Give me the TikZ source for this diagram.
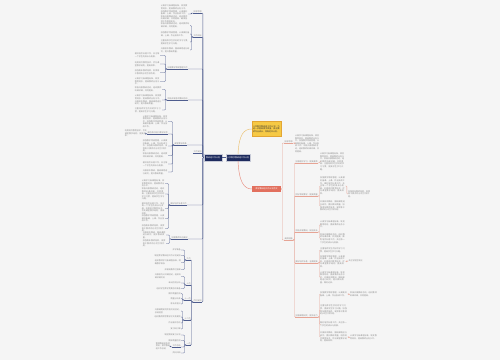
\documentclass[tikz,border=0pt]{standalone}
\usepackage{fontspec}
\newfontfamily\cjk{Noto Sans CJK SC}
\XeTeXlinebreaklocale "zh"
\XeTeXlinebreakskip=0pt plus 0.5pt
\newcommand\mmtiny{\cjk\fontsize{2}{2.6}\selectfont}
\definecolor{bgc}{HTML}{F5F5F5}
\definecolor{navy}{HTML}{1E2B5E}
\definecolor{lcol}{HTML}{4F5D8E}
\definecolor{rcol}{HTML}{E6A495}
\definecolor{redn}{HTML}{E2705E}
\definecolor{yeln}{HTML}{F6C945}
\definecolor{yelb}{HTML}{E3A634}
\definecolor{txt}{HTML}{8A8A8A}
\newcommand\mmA{认真学习新课程标准，转变教育观念，提高教师业务水平。}
\newcommand\mmB{加强教学常规管理，认真做好备课、上课、作业批改工作。}
\newcommand\mmC{积极开展教研活动，组织教师听课评课，共同提高。}
\newcommand\mmD{注重培养学生良好的学习习惯，提高学生学习兴趣。}
\newcommand\mmE{做好培优补差工作，关注每一个学生的成长与发展。}
\newcommand\mmF{开展校本教研，围绕课题进行研究，提升教研质量。}
\newcommand\mmG{利用现代教育技术，优化课堂教学结构，提高效率。}
\newcommand\mmH{加强青年教师培养，发挥骨干教师的示范引领作用。}
\tikzset{
  lab/.style={font=\mmtiny, inner xsep=0.3pt, inner ysep=0.4pt, text=txt},
  blk/.style={font=\mmtiny, text width=#1pt, inner sep=0pt, align=left, text=txt},
  lline/.style={draw=lcol, line width=0.35pt, rounded corners=0.8pt},
  rline/.style={draw=rcol, line width=0.35pt, rounded corners=0.8pt},
  navybox/.style={fill=navy, draw=white!75!navy, line width=0.3pt, text=white, font=\mmtiny, minimum height=6.5pt, inner xsep=1pt, inner ysep=0pt},
}
\newcommand\mmL[4]{\node[lab,anchor=south east] (#1) at (#2,#3) {#4}; \draw[lline] (#1.south west) -- (#1.south east);}
\newcommand\mmR[4]{\node[lab,anchor=south west] (#1) at (#2,#3) {#4}; \draw[rline] (#1.south west) -- (#1.south east);}
\newcommand\mmBL[5]{\node[blk=#4,anchor=east] (#1) at (#2,#3) {#5};}
\newcommand\mmBR[5]{\node[blk=#4,anchor=west] (#1) at (#2,#3) {#5};}
\newcommand\mmTL[4]{\node[lab,anchor=east] (#1) at (#2,#3) {#4};}
\newcommand\mmCL[2]{\draw[lline] (#1.south west) -- ++(-1.5,0) |- (#2.east);}
\newcommand\mmCLL[2]{\draw[lline] (#1.south west) -- ++(-1.5,0) |- (#2.south east);}
\newcommand\mmCR[2]{\draw[rline] (#1.south east) -- ++(1.5,0) |- (#2.west);}
\newcommand\mmCRL[2]{\draw[rline] (#1.south east) -- ++(1.5,0) |- (#2.south west);}
\newcommand\mmCG[2]{\draw[rline] (#1.east) -- ++(1.5,0) |- (#2.west);}
\begin{document}
\begin{tikzpicture}[x=1pt,y=-1pt]
\useasboundingbox (0,0) rectangle (500,360);
\fill[bgc] (0,0) rectangle (500,360);

% central nodes
\node[navybox, minimum width=24pt] (C) at (238,157.5) {小学数学教研组工作计划};
\node[navybox, minimum width=18pt] (H) at (213,157.5) {教研组工作计划};
\draw[lline] (H.east) -- (C.west);

% yellow note
\node[fill=yeln, draw=yelb, line width=0.3pt, text width=27pt, minimum height=15pt, inner sep=1pt, align=left, font=\mmtiny, text=black!80] (Y) at (266.5,129) {小学数学教研组工作计划：为进一步提高教学质量，促进教师专业成长，特制定本计划。};
% red node
\node[fill=redn, text=white, font=\mmtiny, minimum width=29pt, minimum height=6pt, inner sep=0.5pt] (R) at (266.5,189) {数学教研组工作计划范文};
\draw[draw=yelb!70, line width=0.45pt] (C.north) .. controls (239,134) and (244,129) .. (Y.west);
\draw[draw=redn!80, line width=0.45pt] (C.south) .. controls (239,182) and (244,189) .. (R.west);

% ---------- LEFT ----------
\mmL{LA}{202}{13}{指导思想}
\mmL{LB}{202}{37}{工作目标}
\mmL{LC}{188}{69}{加强教学常规管理工作}
\mmL{LD}{188}{100}{积极开展各项教研活动}
\mmL{LE}{187}{145}{课堂教学改革}
\mmL{LS}{202}{153}{工作安排}
\mmL{LF}{187}{205}{做好培优补差工作}
\mmL{LG}{188}{239}{加强教师队伍建设}
\mmL{LH}{202}{302}{月份安排}
\foreach \t in {LA,LB,LC,LD,LE,LS,LF,LG,LH}{
  \draw[lline] (H.west) -- ++(-1,0) |- (\t.south east);
}

\mmBL{A1}{188}{14}{27}{\mmA\mmB\mmC 确保各项工作落到实处。}
\mmCL{LA}{A1}
\mmBL{B1}{190}{25.5}{29}{\mmC}
\mmBL{B2}{190}{34}{29}{\mmB}
\mmBL{B3}{190}{42}{29}{\mmD}
\mmBL{B4}{190}{50}{29}{\mmF}
\foreach \c in {B1,B2,B3,B4}{\mmCL{LB}{\c}}

\mmBL{C1}{160}{55.5}{25}{\mmE}
\mmBL{C2}{160}{64}{25}{\mmG}
\mmBL{C3}{160}{72.5}{25}{\mmH}
\mmBL{C4}{160}{81.5}{25}{\mmA}
\foreach \c in {C1,C2,C3,C4}{\mmCL{LC}{\c}}

\mmBL{D1}{162}{89.5}{27}{\mmC}
\mmBL{D2}{162}{100}{27}{\mmA\mmF}
\mmBL{D3}{162}{110}{27}{\mmD}
\foreach \c in {D1,D2,D3}{\mmCL{LD}{\c}}

\mmBL{E1}{168}{121.5}{25}{\mmA\mmB}
\mmL{E2}{168}{134}{课后及时进行教学反思}
\mmCLL{LE}{E2}
\mmBL{E2a}{147}{133.5}{22}{\mmG}
\mmCL{E2}{E2a}
\mmBL{E3}{168}{146}{25}{\mmB\mmH}
\mmBL{E4}{168}{155.5}{25}{\mmC}
\mmBL{E5}{168}{164}{25}{\mmE}
\mmBL{E6}{168}{172}{25}{\mmF}
\foreach \c in {E1,E3,E4,E5,E6}{\mmCL{LE}{\c}}

\mmBL{F1}{165}{183.5}{23}{\mmA}
\mmBL{F2}{165}{194}{23}{\mmC\mmD}
\mmBL{F3}{165}{208.5}{23}{\mmE\mmG}
\mmBL{F4}{165}{218.5}{23}{\mmB}
\mmBL{F5}{165}{228.5}{23}{\mmH}
\foreach \c in {F1,F2,F3,F4,F5}{\mmCL{LF}{\c}}

\mmBL{G1}{166}{235}{23}{\mmF}
\mmBL{G2}{166}{243.5}{23}{\mmH}
\foreach \c in {G1,G2}{\mmCL{LG}{\c}}

\mmL{H1}{191}{260}{九月}
\mmL{H2}{191}{285}{十月}
\mmL{H3}{191}{300}{十一月}
\mmL{H4}{191}{320}{十二月}
\mmL{H5}{191}{345}{一月}
\foreach \c in {H1,H2,H3,H4,H5}{\mmCLL{LH}{\c}}

\mmTL{H1a}{181}{250}{开学准备}
\mmTL{H1b}{181}{255.5}{制定数学教研组工作计划安排}
\mmBL{H1c}{181}{262.5}{26}{组织教师学习新课程标准，明确教学目标}
\mmTL{H1d}{181}{269.5}{开展新教师汇报课}
\foreach \c in {H1a,H1b,H1c,H1d}{\mmCL{H1}{\c}}
\mmBL{H2a}{181}{276.5}{26}{开展校内公开课活动，组织听课评课交流}
\mmTL{H2b}{181}{283}{单元检测分析}
\mmTL{H2c}{181}{288.5}{组织学生数学竞赛活动准备}
\foreach \c in {H2a,H2b,H2c}{\mmCL{H2}{\c}}
\mmTL{H3a}{181}{293.5}{期中质量检测}
\mmTL{H3b}{181}{298.5}{质量分析会}
\mmTL{H3c}{181}{304}{家长开放日}
\foreach \c in {H3a,H3b,H3c}{\mmCL{H3}{\c}}
\mmBL{H4a}{181}{311}{26}{开展课题研究阶段交流活动，总结经验}
\mmTL{H4b}{181}{317}{组织教师撰写教学论文及案例}
\mmTL{H4c}{181}{323}{作业展评活动}
\mmTL{H4d}{181}{329}{复习研讨课}
\foreach \c in {H4a,H4b,H4c,H4d}{\mmCL{H4}{\c}}
\mmTL{H5a}{181}{335}{制定期末复习计划}
\mmTL{H5b}{181}{340.5}{期末质量检测}
\mmL{H5c}{181}{347}{工作总结}
\mmTL{H5d}{181}{353}{资料归档}
\foreach \c in {H5a,H5b,H5d}{\mmCL{H5}{\c}}
\mmCLL{H5}{H5c}
\mmBL{H5c1}{170}{346}{14}{整理教研组各项资料，撰写教研组工作总结}
\mmCL{H5c}{H5c1}

% ---------- RIGHT ----------
\mmR{RA}{284}{143}{指导思想}
\mmR{RB}{284}{240}{具体措施}
\draw[rline] (R.east) -- ++(1,0) |- (RA.south west);
\draw[rline] (R.east) -- ++(1,0) |- (RB.south west);
\mmBR{RA1}{295}{143.5}{24}{\mmA\mmB\mmC}
\draw[rline] (RA.south east) -- ++(1.5,0) |- (RA1.west);

\mmR{RB1}{295}{163}{加强理论学习，提高素质}
\mmR{RB2}{295}{196}{抓好常规教学，提高质量}
\mmR{RB3}{295}{232}{积极开展教研，促进成长}
\mmR{RB4}{295}{263}{做好培优补差，全面提高}
\mmR{RB5}{295}{317}{加强课题研究，提升能力}
\foreach \c in {RB1,RB2,RB3,RB4,RB5}{\mmCRL{RB}{\c}}

\mmBR{RB1a}{320}{161.5}{24}{\mmA\mmC\mmD}
\mmCR{RB1}{RB1a}

\mmBR{RB2a}{320}{186}{25}{\mmB\mmE\mmG}
\mmBR{RB2b}{320}{206}{25}{\mmF\mmH}
\mmCR{RB2}{RB2a}\mmCR{RB2}{RB2b}
\mmBR{RB2g}{348}{194}{22}{\mmH}
\mmCG{RB2a}{RB2g}

\mmBR{RB3a}{320}{224.5}{25}{\mmA}
\mmBR{RB3b}{320}{238.5}{25}{\mmC\mmE}
\mmCR{RB3}{RB3a}\mmCR{RB3}{RB3b}

\mmBR{RB4a}{320}{250}{25}{\mmD}
\mmBR{RB4b}{320}{261.5}{25}{\mmB\mmG}
\mmBR{RB4c}{320}{277.5}{25}{\mmA\mmF 做好记录。}
\mmCR{RB4}{RB4a}\mmCR{RB4}{RB4b}\mmCR{RB4}{RB4c}
\node[lab,anchor=west] (RB4g) at (348,261) {关注学困生转化};
\mmCG{RB4b}{RB4g}

\mmBR{RB5a}{320}{294}{27}{\mmB}
\mmBR{RB5b}{320}{310}{27}{\mmD\mmH}
\mmBR{RB5c}{320}{324.5}{27}{\mmE}
\mmBR{RB5d}{320}{337}{27}{\mmF\mmG}
\foreach \c in {RB5a,RB5b,RB5c,RB5d}{\mmCR{RB5}{\c}}
\mmBR{RB5g1}{350}{294.5}{27}{\mmC}
\mmCG{RB5a}{RB5g1}
\mmBR{RB5g2}{350}{337.5}{27}{\mmA}
\mmCG{RB5d}{RB5g2}
\end{tikzpicture}
\end{document}
